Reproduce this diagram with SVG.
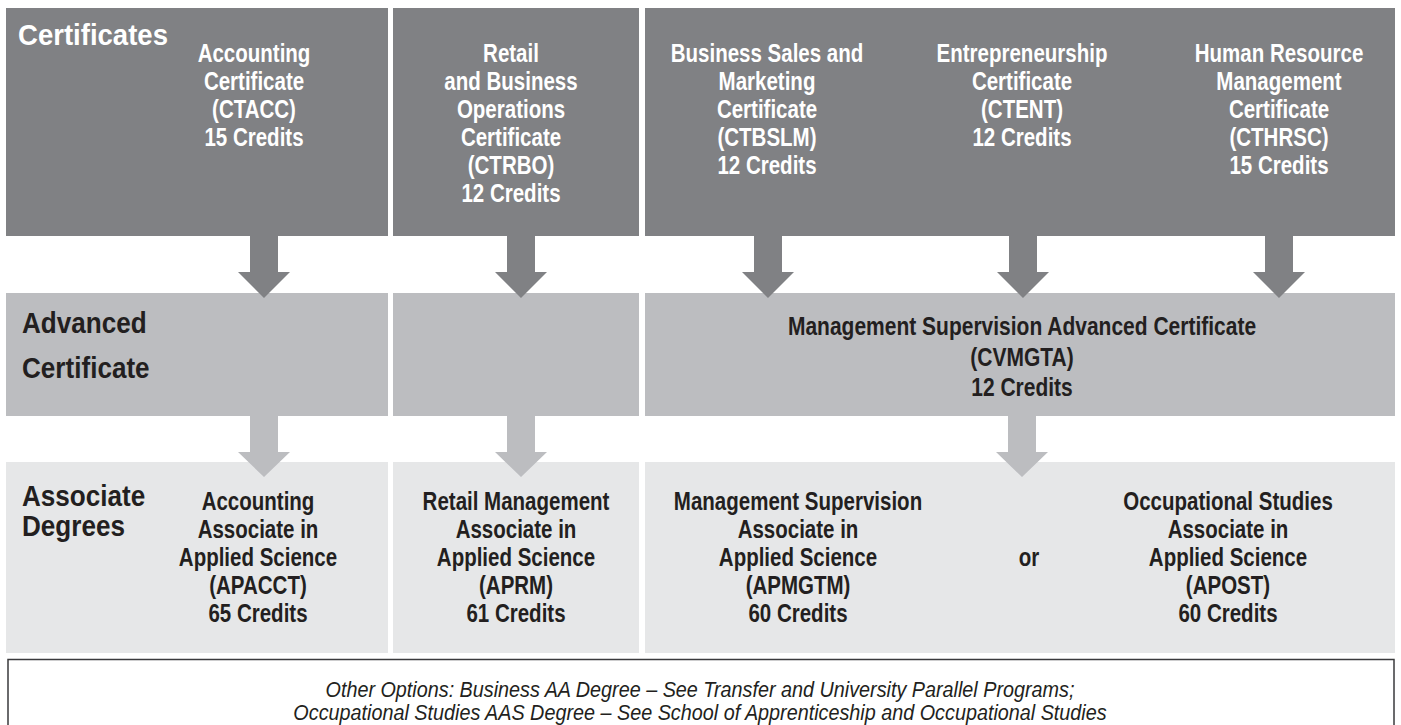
<svg xmlns="http://www.w3.org/2000/svg" width="1401" height="725" viewBox="0 0 1401 725">
<style>
  .dark { fill: #808184; }
  .mid { fill: #bcbdc0; }
  .light { fill: #e6e7e8; }
  text { font-family: "Liberation Sans", Arial, sans-serif; font-weight: bold; }
  .w { fill: #ffffff; font-size: 25px; text-anchor: middle; }
  .b { fill: #231f20; font-size: 25px; text-anchor: middle; }
  .hw { fill: #ffffff; font-size: 29px; }
  .hb { fill: #231f20; font-size: 29px; }
  .note { fill: #231f20; font-size: 22px; font-weight: normal; font-style: italic; text-anchor: middle; }
</style>
<rect width="1401" height="725" fill="#ffffff"/>

<g id="row-certificates">
  <rect class="dark" x="6" y="8" width="382" height="228"/>
  <rect class="dark" x="393" y="8" width="246" height="228"/>
  <rect class="dark" x="645" y="8" width="750" height="228"/>
  <g transform="translate(18 0) scale(0.95 1)">
    <text class="hw" x="0" y="45">Certificates</text>
  </g>
</g>
<g id="node-ctacc" transform="translate(254 0) scale(0.82 1)">
  <text class="w" x="0" y="62">Accounting</text>
  <text class="w" x="0" y="90">Certificate</text>
  <text class="w" x="0" y="118">(CTACC)</text>
  <text class="w" x="0" y="146">15 Credits</text>
</g>
<g id="node-ctrbo" transform="translate(511 0) scale(0.82 1)">
  <text class="w" x="0" y="62">Retail</text>
  <text class="w" x="0" y="90">and Business</text>
  <text class="w" x="0" y="118">Operations</text>
  <text class="w" x="0" y="146">Certificate</text>
  <text class="w" x="0" y="174">(CTRBO)</text>
  <text class="w" x="0" y="202">12 Credits</text>
</g>
<g id="node-ctbslm" transform="translate(767 0) scale(0.82 1)">
  <text class="w" x="0" y="62">Business Sales and</text>
  <text class="w" x="0" y="90">Marketing</text>
  <text class="w" x="0" y="118">Certificate</text>
  <text class="w" x="0" y="146">(CTBSLM)</text>
  <text class="w" x="0" y="174">12 Credits</text>
</g>
<g id="node-ctent" transform="translate(1022 0) scale(0.82 1)">
  <text class="w" x="0" y="62">Entrepreneurship</text>
  <text class="w" x="0" y="90">Certificate</text>
  <text class="w" x="0" y="118">(CTENT)</text>
  <text class="w" x="0" y="146">12 Credits</text>
</g>
<g id="node-cthrsc" transform="translate(1279 0) scale(0.82 1)">
  <text class="w" x="0" y="62">Human Resource</text>
  <text class="w" x="0" y="90">Management</text>
  <text class="w" x="0" y="118">Certificate</text>
  <text class="w" x="0" y="146">(CTHRSC)</text>
  <text class="w" x="0" y="174">15 Credits</text>
</g>

<g id="row-advanced">
  <rect class="mid" x="6" y="293" width="382" height="123"/>
  <rect class="mid" x="393" y="293" width="246" height="123"/>
  <rect class="mid" x="645" y="293" width="750" height="123"/>
  <g transform="translate(22 0) scale(0.9 1)">
    <text class="hb" x="0" y="333">Advanced</text>
    <text class="hb" x="0" y="378">Certificate</text>
  </g>
</g>
<g id="node-cvmgta" transform="translate(1022 0) scale(0.84 1)">
  <text class="b" x="0" y="335">Management Supervision Advanced Certificate</text>
  <text class="b" x="0" y="366">(CVMGTA)</text>
  <text class="b" x="0" y="396">12 Credits</text>
</g>

<g id="row-associate">
  <rect class="light" x="6" y="462" width="382" height="191"/>
  <rect class="light" x="393" y="462" width="246" height="191"/>
  <rect class="light" x="645" y="462" width="750" height="191"/>
  <g transform="translate(22 0) scale(0.9 1)">
    <text class="hb" x="0" y="506">Associate</text>
    <text class="hb" x="0" y="536">Degrees</text>
  </g>
</g>
<g id="node-apacct" transform="translate(258 0) scale(0.82 1)">
  <text class="b" x="0" y="510">Accounting</text>
  <text class="b" x="0" y="538">Associate in</text>
  <text class="b" x="0" y="566">Applied Science</text>
  <text class="b" x="0" y="594">(APACCT)</text>
  <text class="b" x="0" y="622">65 Credits</text>
</g>
<g id="node-aprm" transform="translate(516 0) scale(0.82 1)">
  <text class="b" x="0" y="510">Retail Management</text>
  <text class="b" x="0" y="538">Associate in</text>
  <text class="b" x="0" y="566">Applied Science</text>
  <text class="b" x="0" y="594">(APRM)</text>
  <text class="b" x="0" y="622">61 Credits</text>
</g>
<g id="node-apmgtm" transform="translate(798 0) scale(0.82 1)">
  <text class="b" x="0" y="510">Management Supervision</text>
  <text class="b" x="0" y="538">Associate in</text>
  <text class="b" x="0" y="566">Applied Science</text>
  <text class="b" x="0" y="594">(APMGTM)</text>
  <text class="b" x="0" y="622">60 Credits</text>
</g>
<g id="node-or" transform="translate(1029 0) scale(0.82 1)">
  <text class="b" x="0" y="566">or</text>
</g>
<g id="node-apost" transform="translate(1228 0) scale(0.82 1)">
  <text class="b" x="0" y="510">Occupational Studies</text>
  <text class="b" x="0" y="538">Associate in</text>
  <text class="b" x="0" y="566">Applied Science</text>
  <text class="b" x="0" y="594">(APOST)</text>
  <text class="b" x="0" y="622">60 Credits</text>
</g>

<g id="note">
  <rect x="8" y="659.5" width="1386" height="70" fill="#ffffff" stroke="#3a3a3c" stroke-width="1.5"/>
  <g transform="translate(700 0) scale(0.9 1)">
    <text class="note" x="0" y="697">Other Options: Business AA Degree – See Transfer and University Parallel Programs;</text>
    <text class="note" x="0" y="720">Occupational Studies AAS Degree – See School of Apprenticeship and Occupational Studies</text>
  </g>
</g>

<g id="connectors">
  <polygon class="dark" points="250,236 278,236 278,272 290,272 264,298 238,272 250,272"/>
  <polygon class="dark" points="507,236 535,236 535,272 547,272 521,298 495,272 507,272"/>
  <polygon class="dark" points="754,236 782,236 782,272 794,272 768,298 742,272 754,272"/>
  <polygon class="dark" points="1009,236 1037,236 1037,272 1049,272 1023,298 997,272 1009,272"/>
  <polygon class="dark" points="1265,236 1293,236 1293,272 1305,272 1279,298 1253,272 1265,272"/>
  <polygon class="mid" points="250,416 278,416 278,452 290,452 264,477 238,452 250,452"/>
  <polygon class="mid" points="507,416 535,416 535,452 547,452 521,477 495,452 507,452"/>
  <polygon class="mid" points="1008,416 1036,416 1036,452 1048,452 1022,477 996,452 1008,452"/>
</g>
</svg>
